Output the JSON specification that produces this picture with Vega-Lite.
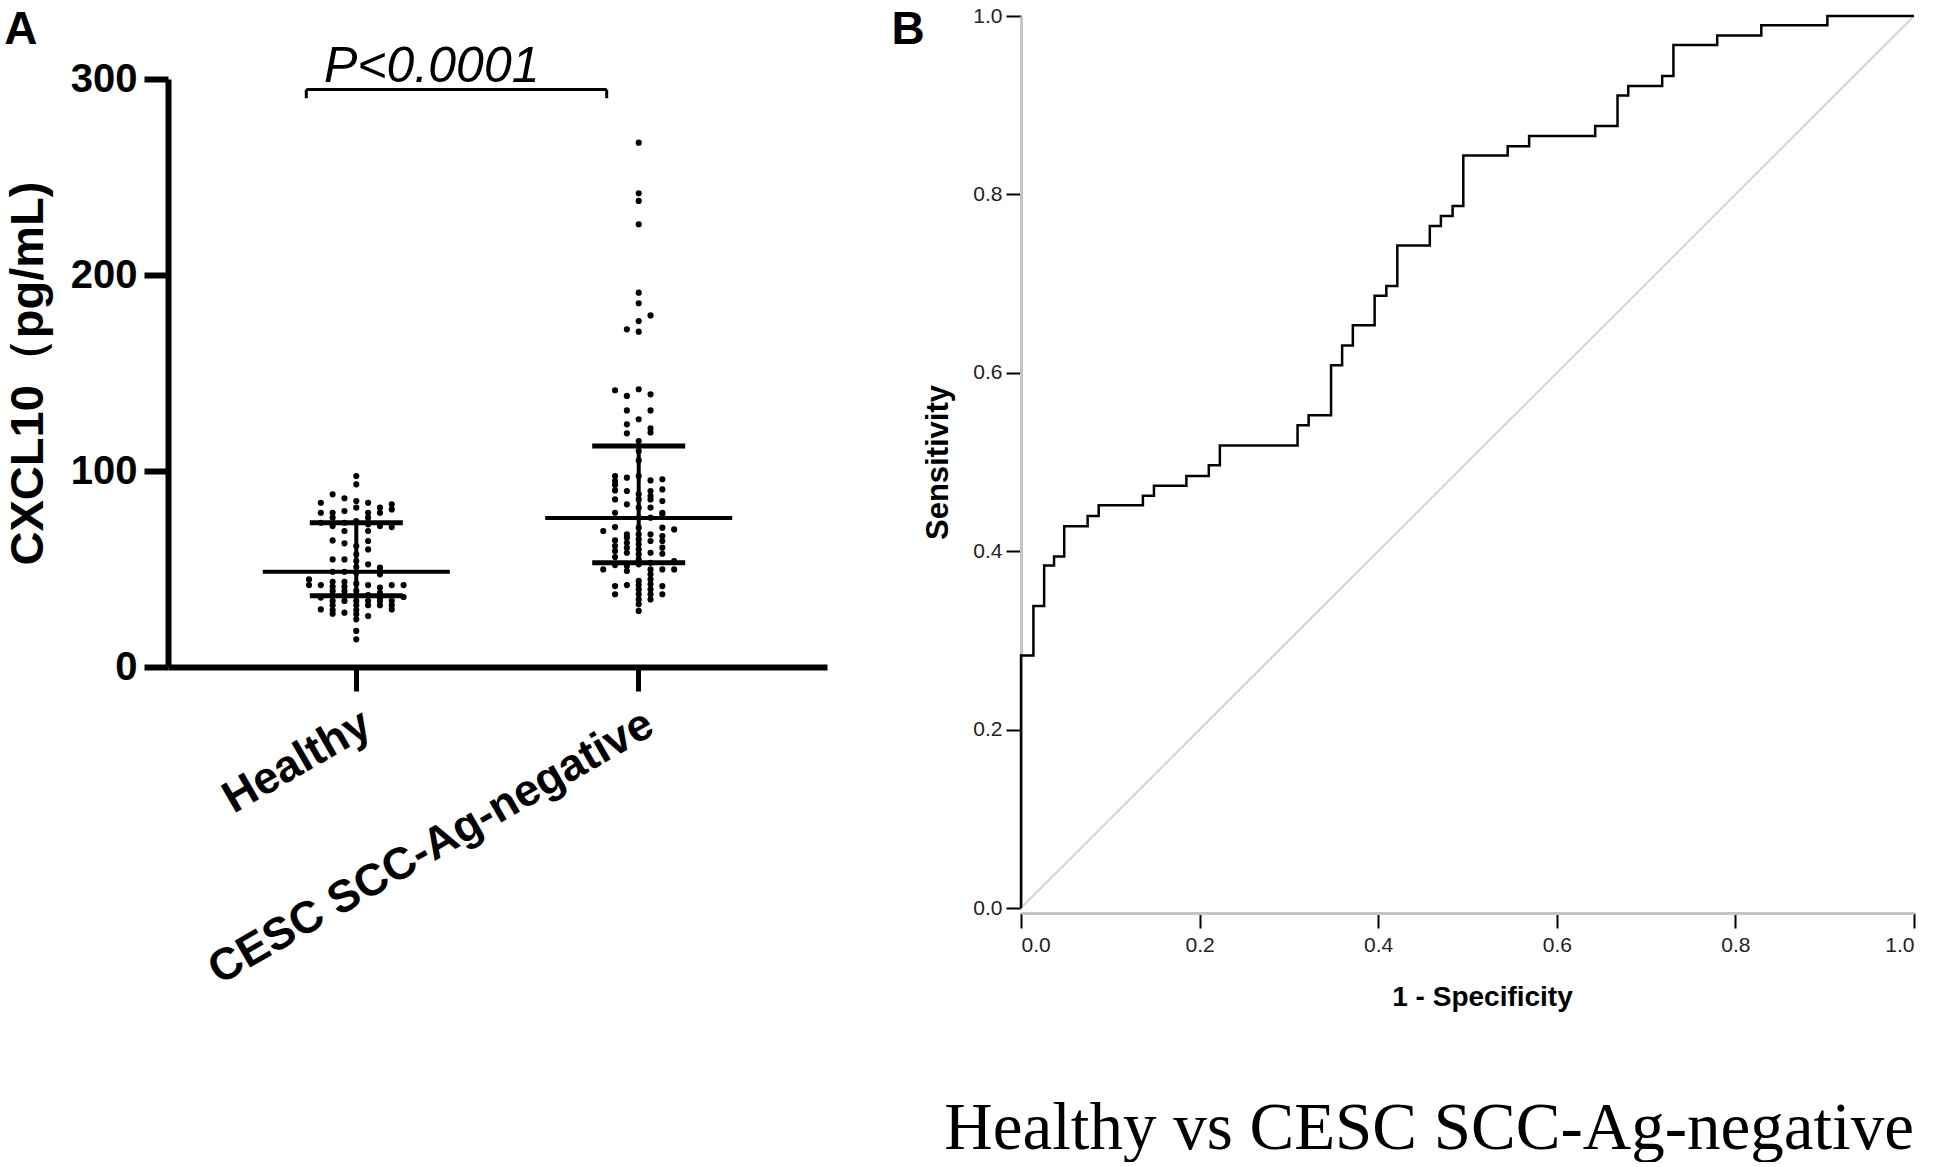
{
  "$schema": "https://vega.github.io/schema/vega-lite/v6.json",
  "background": "white",
  "padding": {"left": 4, "top": 5, "right": 5, "bottom": 0},
  "config": {"view": {"stroke": null}, "font": "Liberation Sans"},
  "datasets": {
    "cxcl10": [
      {"group": "Healthy", "slot": 0, "value": 97.4}, {"group": "Healthy", "slot": 0, "value": 93.2}, {"group": "Healthy", "slot": -2, "value": 88.1},
      {"group": "Healthy", "slot": -1, "value": 86.1}, {"group": "Healthy", "slot": 0, "value": 84.7}, {"group": "Healthy", "slot": -3, "value": 83.8},
      {"group": "Healthy", "slot": 1, "value": 83.8}, {"group": "Healthy", "slot": 3, "value": 83.0}, {"group": "Healthy", "slot": 2, "value": 81.3},
      {"group": "Healthy", "slot": 3, "value": 80.4}, {"group": "Healthy", "slot": 0, "value": 81.3}, {"group": "Healthy", "slot": -3, "value": 78.7},
      {"group": "Healthy", "slot": -2, "value": 78.7}, {"group": "Healthy", "slot": -1, "value": 79.6}, {"group": "Healthy", "slot": 1, "value": 78.7},
      {"group": "Healthy", "slot": 2, "value": 78.7}, {"group": "Healthy", "slot": -2, "value": 76.2}, {"group": "Healthy", "slot": 1, "value": 76.2},
      {"group": "Healthy", "slot": -3, "value": 73.6}, {"group": "Healthy", "slot": -2, "value": 71.9}, {"group": "Healthy", "slot": -1, "value": 73.6},
      {"group": "Healthy", "slot": 0, "value": 74.5}, {"group": "Healthy", "slot": 1, "value": 72.8}, {"group": "Healthy", "slot": 2, "value": 71.9},
      {"group": "Healthy", "slot": 3, "value": 71.4}, {"group": "Healthy", "slot": -1, "value": 69.4}, {"group": "Healthy", "slot": 1, "value": 69.4},
      {"group": "Healthy", "slot": -2, "value": 64.6}, {"group": "Healthy", "slot": -1, "value": 63.1}, {"group": "Healthy", "slot": 1, "value": 64.3},
      {"group": "Healthy", "slot": 1, "value": 60.0}, {"group": "Healthy", "slot": 0, "value": 61.7}, {"group": "Healthy", "slot": 0, "value": 57.5},
      {"group": "Healthy", "slot": -2, "value": 54.9}, {"group": "Healthy", "slot": -1, "value": 54.9}, {"group": "Healthy", "slot": 0, "value": 54.1},
      {"group": "Healthy", "slot": 1, "value": 52.4}, {"group": "Healthy", "slot": 0, "value": 51.0}, {"group": "Healthy", "slot": 2, "value": 50.7},
      {"group": "Healthy", "slot": 2, "value": 48.6}, {"group": "Healthy", "slot": 2, "value": 47.3}, {"group": "Healthy", "slot": -2, "value": 48.6},
      {"group": "Healthy", "slot": -1, "value": 48.6}, {"group": "Healthy", "slot": 0, "value": 48.1}, {"group": "Healthy", "slot": -4, "value": 44.7},
      {"group": "Healthy", "slot": -4, "value": 41.8}, {"group": "Healthy", "slot": -3, "value": 41.8}, {"group": "Healthy", "slot": -2, "value": 43.5},
      {"group": "Healthy", "slot": -2, "value": 41.0}, {"group": "Healthy", "slot": -1, "value": 43.5}, {"group": "Healthy", "slot": -1, "value": 41.0},
      {"group": "Healthy", "slot": 0, "value": 42.5}, {"group": "Healthy", "slot": 1, "value": 41.8}, {"group": "Healthy", "slot": 2, "value": 40.5},
      {"group": "Healthy", "slot": 3, "value": 41.8}, {"group": "Healthy", "slot": 4, "value": 41.8}, {"group": "Healthy", "slot": -2, "value": 38.8},
      {"group": "Healthy", "slot": -1, "value": 38.8}, {"group": "Healthy", "slot": 0, "value": 38.8}, {"group": "Healthy", "slot": 2, "value": 37.9},
      {"group": "Healthy", "slot": -3, "value": 35.4}, {"group": "Healthy", "slot": -2, "value": 36.4}, {"group": "Healthy", "slot": -1, "value": 36.2},
      {"group": "Healthy", "slot": 0, "value": 36.2}, {"group": "Healthy", "slot": 1, "value": 36.7}, {"group": "Healthy", "slot": 2, "value": 35.4},
      {"group": "Healthy", "slot": 4, "value": 35.7}, {"group": "Healthy", "slot": -2, "value": 33.7}, {"group": "Healthy", "slot": -1, "value": 33.7},
      {"group": "Healthy", "slot": 0, "value": 33.7}, {"group": "Healthy", "slot": 1, "value": 33.7}, {"group": "Healthy", "slot": 2, "value": 33.7},
      {"group": "Healthy", "slot": 3, "value": 33.7}, {"group": "Healthy", "slot": -2, "value": 31.5}, {"group": "Healthy", "slot": 0, "value": 31.5},
      {"group": "Healthy", "slot": 1, "value": 31.5}, {"group": "Healthy", "slot": 2, "value": 31.5}, {"group": "Healthy", "slot": 3, "value": 31.5},
      {"group": "Healthy", "slot": -3, "value": 29.4}, {"group": "Healthy", "slot": -2, "value": 29.1}, {"group": "Healthy", "slot": 0, "value": 29.1},
      {"group": "Healthy", "slot": 3, "value": 29.4}, {"group": "Healthy", "slot": -2, "value": 27.2}, {"group": "Healthy", "slot": -1, "value": 27.7},
      {"group": "Healthy", "slot": 0, "value": 26.9}, {"group": "Healthy", "slot": 1, "value": 26.0}, {"group": "Healthy", "slot": 0, "value": 24.3},
      {"group": "Healthy", "slot": 0, "value": 18.4}, {"group": "Healthy", "slot": 0, "value": 14.1},
      {"group": "CESC SCC-Ag-negative", "slot": 0, "value": 267.5}, {"group": "CESC SCC-Ag-negative", "slot": 0, "value": 241.7},
      {"group": "CESC SCC-Ag-negative", "slot": 0, "value": 237.8}, {"group": "CESC SCC-Ag-negative", "slot": 0, "value": 225.9},
      {"group": "CESC SCC-Ag-negative", "slot": 0, "value": 191.0}, {"group": "CESC SCC-Ag-negative", "slot": 0, "value": 185.6},
      {"group": "CESC SCC-Ag-negative", "slot": 1, "value": 179.4}, {"group": "CESC SCC-Ag-negative", "slot": 0, "value": 176.5},
      {"group": "CESC SCC-Ag-negative", "slot": -1, "value": 172.3}, {"group": "CESC SCC-Ag-negative", "slot": 0, "value": 171.1},
      {"group": "CESC SCC-Ag-negative", "slot": -2, "value": 141.2}, {"group": "CESC SCC-Ag-negative", "slot": 0, "value": 141.7},
      {"group": "CESC SCC-Ag-negative", "slot": 1, "value": 139.1}, {"group": "CESC SCC-Ag-negative", "slot": -1, "value": 138.3},
      {"group": "CESC SCC-Ag-negative", "slot": -1, "value": 130.9}, {"group": "CESC SCC-Ag-negative", "slot": 1, "value": 130.9},
      {"group": "CESC SCC-Ag-negative", "slot": 0, "value": 126.4}, {"group": "CESC SCC-Ag-negative", "slot": -1, "value": 123.8},
      {"group": "CESC SCC-Ag-negative", "slot": 1, "value": 121.8}, {"group": "CESC SCC-Ag-negative", "slot": -1, "value": 119.2},
      {"group": "CESC SCC-Ag-negative", "slot": 1, "value": 119.7}, {"group": "CESC SCC-Ag-negative", "slot": 0, "value": 115.3},
      {"group": "CESC SCC-Ag-negative", "slot": 0, "value": 110.2}, {"group": "CESC SCC-Ag-negative", "slot": 0, "value": 105.4},
      {"group": "CESC SCC-Ag-negative", "slot": -3, "value": 69.4}, {"group": "CESC SCC-Ag-negative", "slot": -3, "value": 49.8},
      {"group": "CESC SCC-Ag-negative", "slot": -2, "value": 97.4}, {"group": "CESC SCC-Ag-negative", "slot": -2, "value": 94.9},
      {"group": "CESC SCC-Ag-negative", "slot": -2, "value": 92.9}, {"group": "CESC SCC-Ag-negative", "slot": -2, "value": 90.1},
      {"group": "CESC SCC-Ag-negative", "slot": -2, "value": 85.5}, {"group": "CESC SCC-Ag-negative", "slot": -2, "value": 78.7},
      {"group": "CESC SCC-Ag-negative", "slot": -2, "value": 71.4}, {"group": "CESC SCC-Ag-negative", "slot": -2, "value": 64.6},
      {"group": "CESC SCC-Ag-negative", "slot": -2, "value": 61.7}, {"group": "CESC SCC-Ag-negative", "slot": -2, "value": 59.2},
      {"group": "CESC SCC-Ag-negative", "slot": -2, "value": 56.1}, {"group": "CESC SCC-Ag-negative", "slot": -2, "value": 52.0},
      {"group": "CESC SCC-Ag-negative", "slot": -2, "value": 41.3}, {"group": "CESC SCC-Ag-negative", "slot": -2, "value": 37.1},
      {"group": "CESC SCC-Ag-negative", "slot": -1, "value": 96.6}, {"group": "CESC SCC-Ag-negative", "slot": -1, "value": 89.8},
      {"group": "CESC SCC-Ag-negative", "slot": -1, "value": 83.0}, {"group": "CESC SCC-Ag-negative", "slot": -1, "value": 67.7},
      {"group": "CESC SCC-Ag-negative", "slot": -1, "value": 66.0}, {"group": "CESC SCC-Ag-negative", "slot": -1, "value": 63.4},
      {"group": "CESC SCC-Ag-negative", "slot": -1, "value": 60.9}, {"group": "CESC SCC-Ag-negative", "slot": -1, "value": 58.3},
      {"group": "CESC SCC-Ag-negative", "slot": -1, "value": 51.5}, {"group": "CESC SCC-Ag-negative", "slot": -1, "value": 49.0},
      {"group": "CESC SCC-Ag-negative", "slot": -1, "value": 41.8},
      {"group": "CESC SCC-Ag-negative", "slot": 0, "value": 97.4}, {"group": "CESC SCC-Ag-negative", "slot": 0, "value": 88.1},
      {"group": "CESC SCC-Ag-negative", "slot": 0, "value": 85.5}, {"group": "CESC SCC-Ag-negative", "slot": 0, "value": 81.3},
      {"group": "CESC SCC-Ag-negative", "slot": 0, "value": 76.2}, {"group": "CESC SCC-Ag-negative", "slot": 0, "value": 71.1},
      {"group": "CESC SCC-Ag-negative", "slot": 0, "value": 67.7}, {"group": "CESC SCC-Ag-negative", "slot": 0, "value": 65.1},
      {"group": "CESC SCC-Ag-negative", "slot": 0, "value": 62.6}, {"group": "CESC SCC-Ag-negative", "slot": 0, "value": 60.0},
      {"group": "CESC SCC-Ag-negative", "slot": 0, "value": 57.5}, {"group": "CESC SCC-Ag-negative", "slot": 0, "value": 54.9},
      {"group": "CESC SCC-Ag-negative", "slot": 0, "value": 52.4}, {"group": "CESC SCC-Ag-negative", "slot": 0, "value": 43.9},
      {"group": "CESC SCC-Ag-negative", "slot": 0, "value": 41.8}, {"group": "CESC SCC-Ag-negative", "slot": 0, "value": 39.6},
      {"group": "CESC SCC-Ag-negative", "slot": 0, "value": 37.1}, {"group": "CESC SCC-Ag-negative", "slot": 0, "value": 34.5},
      {"group": "CESC SCC-Ag-negative", "slot": 0, "value": 32.0}, {"group": "CESC SCC-Ag-negative", "slot": 0, "value": 28.6},
      {"group": "CESC SCC-Ag-negative", "slot": 1, "value": 95.2}, {"group": "CESC SCC-Ag-negative", "slot": 1, "value": 89.8},
      {"group": "CESC SCC-Ag-negative", "slot": 1, "value": 87.2}, {"group": "CESC SCC-Ag-negative", "slot": 1, "value": 85.5},
      {"group": "CESC SCC-Ag-negative", "slot": 1, "value": 81.3}, {"group": "CESC SCC-Ag-negative", "slot": 1, "value": 76.2},
      {"group": "CESC SCC-Ag-negative", "slot": 1, "value": 67.7}, {"group": "CESC SCC-Ag-negative", "slot": 1, "value": 64.3},
      {"group": "CESC SCC-Ag-negative", "slot": 1, "value": 58.3}, {"group": "CESC SCC-Ag-negative", "slot": 1, "value": 53.2},
      {"group": "CESC SCC-Ag-negative", "slot": 1, "value": 49.8}, {"group": "CESC SCC-Ag-negative", "slot": 1, "value": 47.3},
      {"group": "CESC SCC-Ag-negative", "slot": 1, "value": 44.7}, {"group": "CESC SCC-Ag-negative", "slot": 1, "value": 42.2},
      {"group": "CESC SCC-Ag-negative", "slot": 1, "value": 39.6}, {"group": "CESC SCC-Ag-negative", "slot": 1, "value": 37.1},
      {"group": "CESC SCC-Ag-negative", "slot": 1, "value": 34.5},
      {"group": "CESC SCC-Ag-negative", "slot": 2, "value": 95.8}, {"group": "CESC SCC-Ag-negative", "slot": 2, "value": 90.6},
      {"group": "CESC SCC-Ag-negative", "slot": 2, "value": 84.7}, {"group": "CESC SCC-Ag-negative", "slot": 2, "value": 78.7},
      {"group": "CESC SCC-Ag-negative", "slot": 2, "value": 77.9}, {"group": "CESC SCC-Ag-negative", "slot": 2, "value": 71.1},
      {"group": "CESC SCC-Ag-negative", "slot": 2, "value": 66.8}, {"group": "CESC SCC-Ag-negative", "slot": 2, "value": 64.3},
      {"group": "CESC SCC-Ag-negative", "slot": 2, "value": 60.9}, {"group": "CESC SCC-Ag-negative", "slot": 2, "value": 57.8},
      {"group": "CESC SCC-Ag-negative", "slot": 2, "value": 49.8}, {"group": "CESC SCC-Ag-negative", "slot": 2, "value": 41.3},
      {"group": "CESC SCC-Ag-negative", "slot": 2, "value": 37.1},
      {"group": "CESC SCC-Ag-negative", "slot": 3, "value": 70.2}, {"group": "CESC SCC-Ag-negative", "slot": 3, "value": 54.1},
      {"group": "CESC SCC-Ag-negative", "slot": 3, "value": 49.8}
    ],
    "summary": [
      {"group": "Healthy", "median": 48.6, "q1": 36.3, "q3": 73.6},
      {"group": "CESC SCC-Ag-negative", "median": 76.0, "q1": 53.2, "q3": 112.8}
    ],
    "bracket": [
      {"from": "Healthy", "to": "CESC SCC-Ag-negative", "level": 294.6, "foot": 290.2}
    ],
    "pvalue": [
      {"group": "Healthy", "level": 298.5, "label": "P<0.0001"}
    ],
    "roc": [
      {"i": 0, "fpr": 0, "tpr": 0}, {"i": 1, "fpr": 0, "tpr": 0.283}, {"i": 2, "fpr": 0.0139, "tpr": 0.3386},
      {"i": 3, "fpr": 0.0259, "tpr": 0.384}, {"i": 4, "fpr": 0.037, "tpr": 0.394}, {"i": 5, "fpr": 0.0484, "tpr": 0.428},
      {"i": 6, "fpr": 0.0746, "tpr": 0.4395}, {"i": 7, "fpr": 0.087, "tpr": 0.4515}, {"i": 8, "fpr": 0.1365, "tpr": 0.4623},
      {"i": 9, "fpr": 0.1489, "tpr": 0.4735}, {"i": 10, "fpr": 0.1852, "tpr": 0.4843}, {"i": 11, "fpr": 0.2103, "tpr": 0.4963},
      {"i": 12, "fpr": 0.2227, "tpr": 0.5184}, {"i": 13, "fpr": 0.3097, "tpr": 0.5411}, {"i": 14, "fpr": 0.3221, "tpr": 0.5524},
      {"i": 15, "fpr": 0.3472, "tpr": 0.6084}, {"i": 16, "fpr": 0.3596, "tpr": 0.6305}, {"i": 17, "fpr": 0.3716, "tpr": 0.6533},
      {"i": 18, "fpr": 0.396, "tpr": 0.6865}, {"i": 19, "fpr": 0.4091, "tpr": 0.6973}, {"i": 20, "fpr": 0.4214, "tpr": 0.7426},
      {"i": 21, "fpr": 0.4578, "tpr": 0.7646}, {"i": 22, "fpr": 0.4702, "tpr": 0.7758}, {"i": 23, "fpr": 0.4833, "tpr": 0.787},
      {"i": 24, "fpr": 0.4953, "tpr": 0.8435}, {"i": 25, "fpr": 0.545, "tpr": 0.854}, {"i": 26, "fpr": 0.569, "tpr": 0.8655},
      {"i": 27, "fpr": 0.643, "tpr": 0.8767}, {"i": 28, "fpr": 0.668, "tpr": 0.911}, {"i": 29, "fpr": 0.68, "tpr": 0.9215},
      {"i": 30, "fpr": 0.718, "tpr": 0.9327}, {"i": 31, "fpr": 0.7306, "tpr": 0.9675}, {"i": 32, "fpr": 0.7796, "tpr": 0.978},
      {"i": 33, "fpr": 0.829, "tpr": 0.9895}, {"i": 34, "fpr": 0.903, "tpr": 1.0}, {"i": 35, "fpr": 1.0, "tpr": 1.0}
    ],
    "diag": [{"fpr": 0, "tpr": 0}, {"fpr": 1, "tpr": 1}],
    "labels": [
      {"text": "B", "fpr": -0.145, "tpr": 0.9686, "kind": "panel"},
      {"text": "Healthy vs CESC SCC-Ag-negative", "fpr": 0.457, "tpr": -0.27, "kind": "caption"}
    ]
  },
  "hconcat": [
    {
      "vconcat": [
        {
          "width": 659,
          "height": 63,
          "data": {"name": "pvalue"},
          "mark": {"type": "text", "font": "Liberation Sans", "fontSize": 50, "fontStyle": "italic", "align": "center", "baseline": "alphabetic", "dx": 99, "color": "black"},
          "encoding": {
            "x": {"field": "group", "type": "nominal", "scale": {"domain": ["Healthy", "CESC SCC-Ag-negative"], "paddingInner": 0.3, "paddingOuter": 0.3167}, "axis": null},
            "y": {"field": "level", "type": "quantitative", "scale": {"domain": [300, 332.14], "nice": false, "zero": false}, "axis": null},
            "text": {"field": "label"}
          }
        },
        {
          "width": 659,
          "height": 588,
          "title": {"text": "A", "anchor": "start", "frame": "bounds", "font": "Liberation Sans", "fontSize": 46, "fontWeight": "bold", "color": "black", "offset": 5},
          "layer": [
            {
              "data": {"name": "cxcl10"},
              "mark": {"type": "circle", "color": "black", "opacity": 1, "size": 38},
              "encoding": {
                "x": {"field": "group", "type": "nominal", "sort": null,
                  "scale": {"domain": ["Healthy", "CESC SCC-Ag-negative"], "paddingInner": 0.3, "paddingOuter": 0.3167},
                  "axis": {"title": null, "labelAngle": -30, "labelAlign": "right", "labelBaseline": "top", "labelFont": "Liberation Sans", "labelFontSize": 45, "labelFontWeight": "bold", "labelColor": "black", "labelLimit": 1000, "labelPadding": 10, "tickSize": 24, "tickWidth": 5, "tickColor": "black", "domainWidth": 6, "domainColor": "black"}},
                "xOffset": {"field": "slot", "type": "quantitative", "scale": {"domain": [-8.36, 8.36]}},
                "y": {"field": "value", "type": "quantitative",
                  "scale": {"domain": [0, 300], "nice": false},
                  "axis": {"title": "CXCL10（pg/mL)", "values": [0, 100, 200, 300], "grid": false, "labelFont": "Liberation Sans", "labelFontSize": 40, "labelFontWeight": "bold", "labelColor": "black", "labelPadding": 7, "tickSize": 24, "tickWidth": 6, "tickColor": "black", "domainWidth": 6, "domainColor": "black", "titleFont": "Liberation Sans", "titleFontSize": 47, "titleFontWeight": "bold", "titleColor": "black", "titlePadding": 18}}
              }
            },
            {
              "data": {"name": "summary"},
              "mark": {"type": "rule", "color": "black", "strokeWidth": 4},
              "encoding": {
                "x": {"field": "group", "type": "nominal"},
                "y": {"field": "q1", "type": "quantitative"},
                "y2": {"field": "q3"}
              }
            },
            {
              "data": {"name": "summary"},
              "mark": {"type": "tick", "color": "black", "size": 187, "thickness": 4, "opacity": 1},
              "encoding": {
                "x": {"field": "group", "type": "nominal"},
                "y": {"field": "median", "type": "quantitative"}
              }
            },
            {
              "data": {"name": "summary"},
              "mark": {"type": "tick", "color": "black", "size": 93, "thickness": 5, "opacity": 1},
              "encoding": {
                "x": {"field": "group", "type": "nominal"},
                "y": {"field": "q1", "type": "quantitative"}
              }
            },
            {
              "data": {"name": "summary"},
              "mark": {"type": "tick", "color": "black", "size": 93, "thickness": 5, "opacity": 1},
              "encoding": {
                "x": {"field": "group", "type": "nominal"},
                "y": {"field": "q3", "type": "quantitative"}
              }
            },
            {
              "data": {"name": "bracket"},
              "mark": {"type": "rule", "color": "black", "strokeWidth": 3, "xOffset": -50, "x2Offset": -32},
              "encoding": {
                "x": {"field": "from", "type": "nominal"},
                "x2": {"field": "to"},
                "y": {"field": "level", "type": "quantitative"}
              }
            },
            {
              "data": {"name": "bracket"},
              "mark": {"type": "rule", "color": "black", "strokeWidth": 3, "xOffset": -50},
              "encoding": {
                "x": {"field": "from", "type": "nominal"},
                "y": {"field": "level", "type": "quantitative"},
                "y2": {"field": "foot"}
              }
            },
            {
              "data": {"name": "bracket"},
              "mark": {"type": "rule", "color": "black", "strokeWidth": 3, "xOffset": -32},
              "encoding": {
                "x": {"field": "to", "type": "nominal"},
                "y": {"field": "level", "type": "quantitative"},
                "y2": {"field": "foot"}
              }
            }
          ]
        }
      ],
      "spacing": 0,
      "bounds": "flush",
      "resolve": {"scale": {"x": "independent", "y": "independent"}}
    },
    {
      "width": 893,
      "height": 892,
      "layer": [
        {
          "data": {"name": "diag"},
          "mark": {"type": "line", "color": "#d4d4d4", "strokeWidth": 2},
          "encoding": {
            "x": {"field": "fpr", "type": "quantitative",
              "scale": {"domain": [0, 1], "nice": false},
              "axis": {"title": "1 - Specificity", "values": [0, 0.2, 0.4, 0.6, 0.8, 1], "format": ".1f", "grid": false, "offset": 5, "domainColor": "#c4c4c4", "domainWidth": 3, "tickColor": "black", "tickWidth": 2, "tickSize": 15, "labelFont": "Liberation Sans", "labelFontSize": 21, "labelColor": "#222222", "labelPadding": 6, "titleFont": "Liberation Sans", "titleFontSize": 28, "titleFontWeight": "bold", "titleColor": "black", "titlePadding": 28, "titleX": 461}},
            "y": {"field": "tpr", "type": "quantitative",
              "scale": {"domain": [0, 1], "nice": false},
              "axis": {"title": "Sensitivity", "values": [0, 0.2, 0.4, 0.6, 0.8, 1], "format": ".1f", "grid": false, "offset": 0, "domainColor": "#c4c4c4", "domainWidth": 3, "tickColor": "black", "tickWidth": 2, "tickSize": 15, "labelFont": "Liberation Sans", "labelFontSize": 21, "labelColor": "#222222", "labelPadding": 4, "titleFont": "Liberation Sans", "titleFontSize": 31, "titleFontWeight": "bold", "titleColor": "black", "titlePadding": 18}}
          }
        },
        {
          "data": {"name": "roc"},
          "mark": {"type": "line", "color": "black", "strokeWidth": 2.5, "interpolate": "step-after"},
          "encoding": {
            "x": {"field": "fpr", "type": "quantitative"},
            "y": {"field": "tpr", "type": "quantitative"},
            "order": {"field": "i", "type": "quantitative"}
          }
        },
        {
          "data": {"name": "labels"},
          "transform": [{"filter": "datum.kind === 'panel'"}],
          "mark": {"type": "text", "font": "Liberation Sans", "fontSize": 46, "fontWeight": "bold", "align": "left", "baseline": "alphabetic", "color": "black"},
          "encoding": {
            "x": {"field": "fpr", "type": "quantitative"},
            "y": {"field": "tpr", "type": "quantitative"},
            "text": {"field": "text"}
          }
        },
        {
          "data": {"name": "labels"},
          "transform": [{"filter": "datum.kind === 'caption'"}],
          "mark": {"type": "text", "font": "Liberation Serif", "fontSize": 67, "align": "center", "baseline": "alphabetic", "color": "black"},
          "encoding": {
            "x": {"field": "fpr", "type": "quantitative"},
            "y": {"field": "tpr", "type": "quantitative"},
            "text": {"field": "text"}
          }
        }
      ]
    }
  ],
  "spacing": 64,
  "resolve": {"scale": {"x": "independent", "y": "independent"}}
}
